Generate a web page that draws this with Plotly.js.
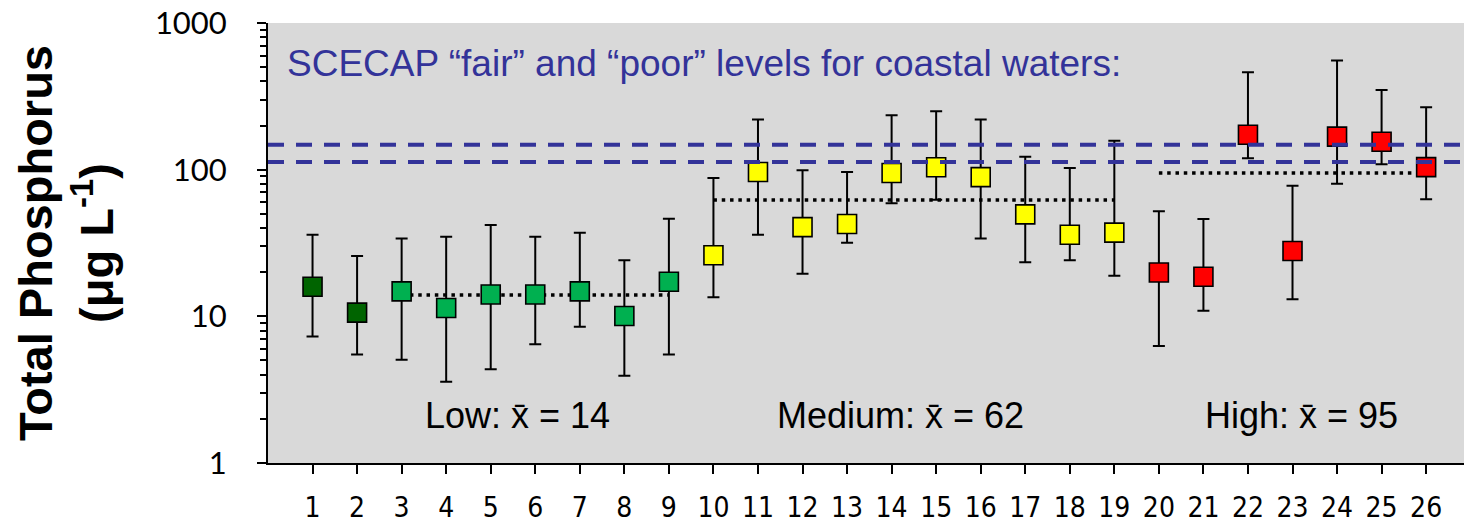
<!DOCTYPE html>
<html>
<head>
<meta charset="utf-8">
<script src="https://cdn.plot.ly/plotly-3.0.1.min.js"></script>
<style>html,body{margin:0;padding:0;background:#fff;}#chart{width:1464px;height:524px;}</style>
</head>
<body>
<div id="chart"></div>
<script>
var sites = [1,2,3,4,5,6,7,8,9,10,11,12,13,14,15,16,17,18,19,20,21,22,23,24,25,26];
var tp =    [15.9,10.6,14.8,11.4,14.1,14.1,14.8,10.05,17.2,26.1,96.4,40.6,42.6,94.9,103.8,89,49.6,36,37.2,19.9,18.6,173,27.9,168,155,104];
var upper = [36,25.8,34,34.9,42,34.9,37.2,24.1,46.3,87.7,220,99,96.4,235,250,220,122.5,102.6,157.6,52,46.1,461,77.8,556,349,266];
var lower = [7.3,5.5,5.06,3.58,4.35,6.45,8.5,3.94,5.5,13.5,36,19.5,31.8,59,62.4,34,23.4,24.1,18.9,6.28,10.9,119.5,13.1,80.3,109,62.8];
var group = ['dark','dark','low','low','low','low','low','low','low',
             'med','med','med','med','med','med','med','med','med','med',
             'high','high','high','high','high','high','high'];
var groupColors = {dark:'#006400', low:'#00B050', med:'#FFFF00', high:'#FF0000'};

var meanNames = ['Low','Medium','High'];
var meanValues = [14, 62, 95];
var meanStart = [3, 10, 20];
var meanEnd = [9, 19, 26];
var meanLabelX = [5.61, 14.19, 23.2];

var scecapLevels = [148, 113];
var xTickVals = [1,2,3,4,5,6,7,8,9,10,11,12,13,14,15,16,17,18,19,20,21,22,23,24,25,26];
var xTickText = ['1','2','3','4','5','6','7','8','9','10','11','12','13','14','15','16','17','18','19','20','21','22','23','24','25','26'];

var meanX = [], meanY = [];
for (var i = 0; i < meanValues.length; i++) {
  meanX.push(meanStart[i], meanEnd[i], null);
  meanY.push(meanValues[i], meanValues[i], null);
}

var plus = tp.map(function(v,i){return upper[i]-v;});
var minus = tp.map(function(v,i){return v-lower[i];});

var traces = [
  {x: meanX, y: meanY, mode:'lines', type:'scatter', hoverinfo:'skip',
   line:{color:'#000', width:3.5, dash:'3.5px,4.8px'}, showlegend:false},
  {x: sites, y: tp, mode:'markers', type:'scatter', showlegend:false,
   marker:{symbol:'square', size:19, color: group.map(function(g){return groupColors[g];}),
           line:{color:'#000', width:1.6}},
   error_y:{type:'data', symmetric:false, array:plus, arrayminus:minus,
            color:'#000', thickness:2, width:6}}
];

var shapes = scecapLevels.map(function(v){
  return {type:'line', xref:'paper', x0:0, x1:1, yref:'y', y0:v, y1:v, layer:'above',
          line:{color:'#333399', width:4, dash:'16px,12px'}};
});

var annotations = [
  {xref:'paper', yref:'paper', x:0, y:0.908, xshift:17, xanchor:'left', yanchor:'middle', showarrow:false,
   text:'SCECAP \u201cfair\u201d and \u201cpoor\u201d levels for coastal waters:',
   font:{family:'Liberation Sans, Arial, sans-serif', size:37, color:'#333399'}},
  {xref:'paper', yref:'paper', x:0, y:0.5, xshift:-202, xanchor:'center', yanchor:'middle', showarrow:false,
   textangle:-90,
   text:'<b>Total Phosphorus</b><br><b>(\u03bcg L<sup>-1</sup>)</b>',
   font:{family:'Liberation Sans, Arial, sans-serif', size:47, color:'#000'}}
];
for (var j = 0; j < meanNames.length; j++) {
  annotations.push({xref:'x', yref:'paper', x:meanLabelX[j], y:0.107, xanchor:'center', yanchor:'middle',
    showarrow:false, text: meanNames[j] + ': x\u0304 = ' + meanValues[j],
    font:{family:'Liberation Sans, Arial, sans-serif', size:36, color:'#000'}});
}

var layout = {
  width:1464, height:524,
  margin:{l:268, r:0, t:23, b:61, pad:0},
  paper_bgcolor:'#ffffff', plot_bgcolor:'#D9D9D9',
  showlegend:false,
  xaxis:{range:[0,26.85], tickmode:'array', tickvals:xTickVals, ticktext:xTickText,
         ticks:'outside', ticklen:9, tickwidth:2, tickcolor:'#000',
         showline:true, linecolor:'#000', linewidth:2, showgrid:false, zeroline:false,
         ticklabelstandoff:9,
         tickfont:{family:'Liberation Sans Narrow, DejaVu Sans Condensed, sans-serif', size:28, color:'#000'}},
  yaxis:{type:'log', range:[0,3], dtick:1, tickvals:[1,10,100,1000], ticktext:['1','10','100','1000'],
         ticks:'outside', ticklen:9, tickwidth:2, tickcolor:'#000',
         minor:{ticks:'outside', ticklen:6, tickwidth:2, tickcolor:'#000', dtick:'D1'},
         showline:true, linecolor:'#000', linewidth:2, showgrid:false, zeroline:false,
         ticklabelstandoff:24,
         tickfont:{family:'Lato, sans-serif', size:31, color:'#000'}},
  shapes:shapes,
  annotations:annotations
};

Plotly.newPlot('chart', traces, layout, {staticPlot:true, displayModeBar:false});
</script>
</body>
</html>
